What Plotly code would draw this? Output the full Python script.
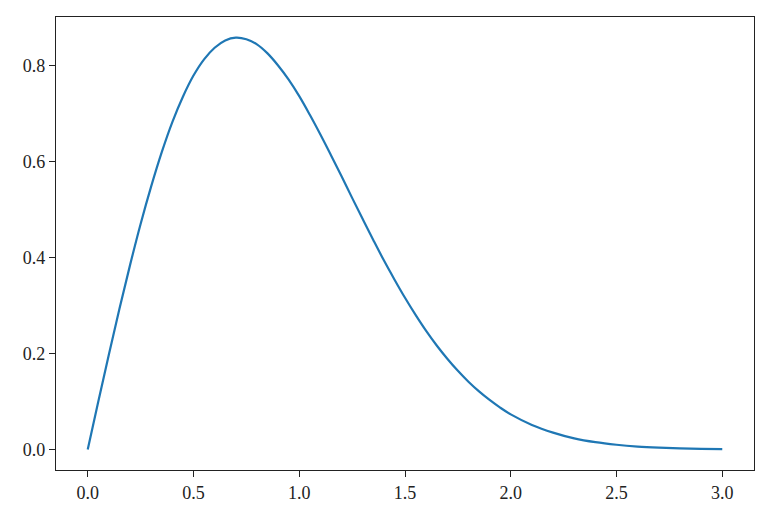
import plotly.graph_objects as go

# values
x_vals = [0.0, 0.05, 0.1, 0.15, 0.2, 0.25, 0.3, 0.35, 0.4, 0.45, 0.5,
          0.55, 0.6, 0.65, 0.7, 0.75, 0.8, 0.85, 0.9, 0.95, 1.0,
          1.05, 1.1, 1.15, 1.2, 1.25, 1.3, 1.35, 1.4, 1.45, 1.5,
          1.55, 1.6, 1.65, 1.7, 1.75, 1.8, 1.85, 1.9, 1.95, 2.0,
          2.1, 2.2, 2.3, 2.4, 2.5, 2.6, 2.7, 2.8, 2.9, 3.0]
y_vals = [0.0, 0.0998, 0.198, 0.2933, 0.384, 0.4697, 0.548, 0.6193, 0.682, 0.7349, 0.779,
          0.8128, 0.837, 0.8522, 0.858, 0.8547, 0.844, 0.8252, 0.800, 0.7704, 0.736,
          0.6972, 0.656, 0.6129, 0.569, 0.5241, 0.480, 0.4364, 0.394, 0.3542, 0.316,
          0.2804, 0.247, 0.2166, 0.189, 0.1637, 0.141, 0.1208, 0.103, 0.0870, 0.073,
          0.051, 0.035, 0.023, 0.015, 0.0097, 0.0060, 0.0037, 0.0022, 0.0013, 0.0007]

x_ticks = [0.0, 0.5, 1.0, 1.5, 2.0, 2.5, 3.0]
y_ticks = [0.0, 0.2, 0.4, 0.6, 0.8]

fig = go.Figure()
fig.add_trace(go.Scatter(x=x_vals, y=y_vals, mode='lines', line_shape='spline',
                         line=dict(color='#1f77b4', width=2.2), showlegend=False))

axis_style = dict(showline=True, mirror=True, linecolor='#222222', linewidth=1.2,
                  ticks='outside', ticklen=6, tickwidth=1.2, tickcolor='#222222',
                  showgrid=False, zeroline=False,
                  tickfont=dict(family='Liberation Serif', size=18, color='#222222'))

# the page body has an 8px margin, so the figure is offset by 8px
fig.update_layout(width=764, height=511,
                  margin=dict(l=48, r=18, t=9, b=49, pad=0),
                  paper_bgcolor='white', plot_bgcolor='white',
                  xaxis=dict(range=[-0.15, 3.15], tickvals=x_ticks,
                             ticktext=[f'{v:.1f}' for v in x_ticks], **axis_style),
                  yaxis=dict(range=[-0.0429, 0.901], tickvals=y_ticks,
                             ticktext=[f'{v:.1f}' for v in y_ticks], **axis_style))

fig.write_html("out.html")
